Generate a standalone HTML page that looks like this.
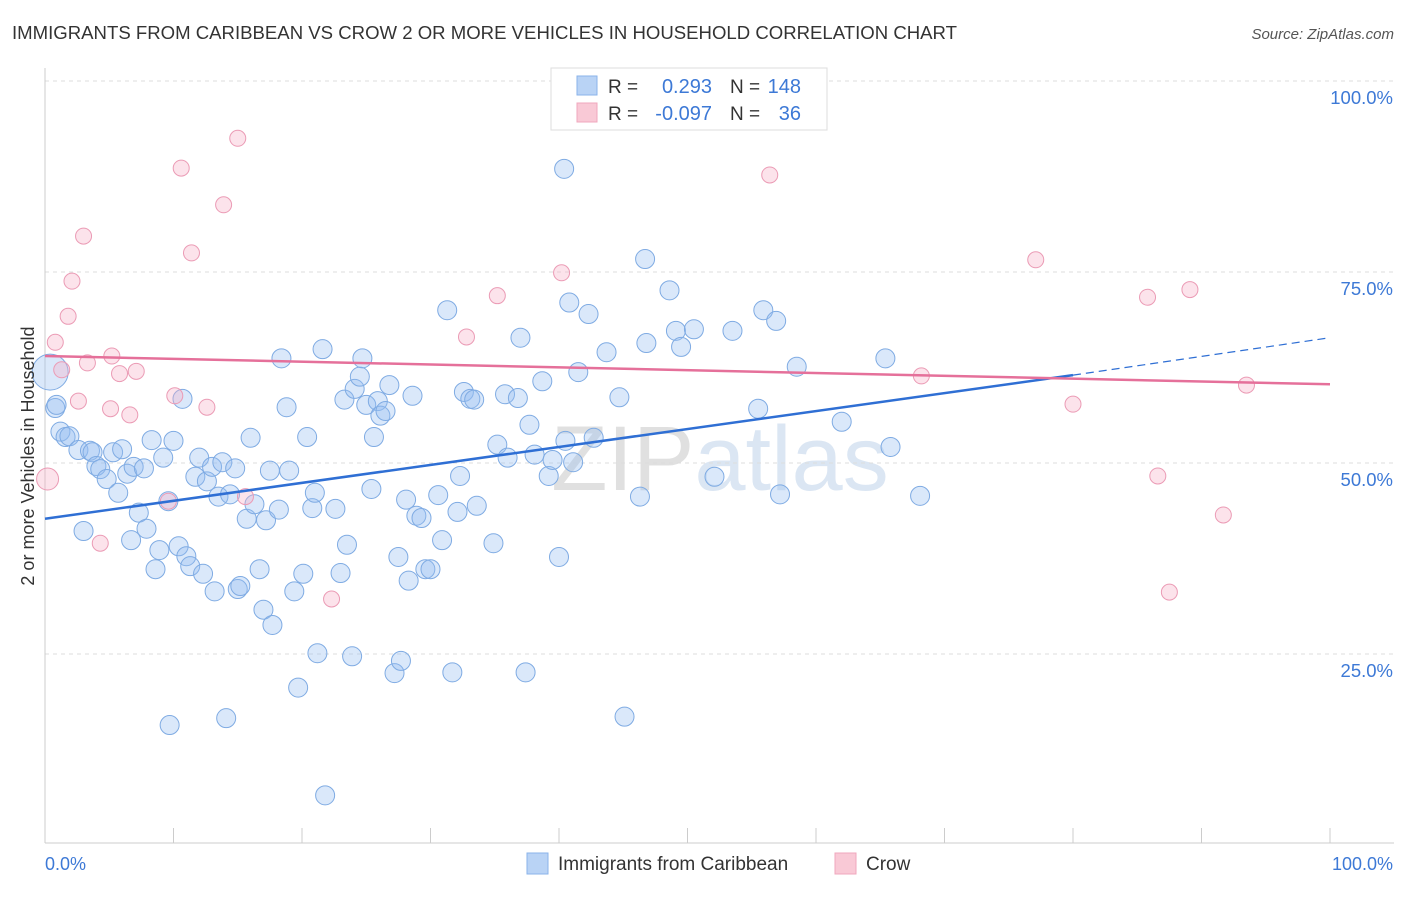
<!DOCTYPE html>
<html><head><meta charset="utf-8">
<style>
body{margin:0;background:#fff;font-family:"Liberation Sans",sans-serif;}
svg text{font-family:"Liberation Sans",sans-serif;}
</style></head>
<body>
<svg id="chart" width="1406" height="892" xmlns="http://www.w3.org/2000/svg">
<text x="12" y="39" font-size="18" fill="#333" textLength="945" lengthAdjust="spacingAndGlyphs">IMMIGRANTS FROM CARIBBEAN VS CROW 2 OR MORE VEHICLES IN HOUSEHOLD CORRELATION CHART</text>
<text x="1394" y="39" font-size="15" fill="#555" font-style="italic" text-anchor="end">Source: ZipAtlas.com</text>
<text x="720" y="490" font-size="92" fill="#e6e6e6" text-anchor="middle" font-family="Liberation Serif"><tspan fill="#e0e0e0">ZIP</tspan><tspan fill="#dbe6f3">atlas</tspan></text>
<g id="grid"></g>
<g id="axes"></g>
<g id="pts"></g>
<g id="trends"></g>
<text transform="translate(34,456) rotate(-90)" font-size="18" fill="#333" text-anchor="middle">2 or more Vehicles in Household</text>
<g>
<rect x="551" y="68" width="276" height="62" fill="#fff" stroke="#ddd"/>
<rect x="577" y="76" width="20" height="19" fill="#b9d3f5" stroke="#8ab3ea"/>
<rect x="577" y="103" width="20" height="19" fill="#f9c9d6" stroke="#f0a7bd"/>
<text x="608" y="93" font-size="19" fill="#333">R =</text>
<text x="712" y="93" font-size="20" fill="#3d79d6" text-anchor="end">0.293</text>
<text x="730" y="93" font-size="19" fill="#333">N =</text>
<text x="801" y="93" font-size="20" fill="#3d79d6" text-anchor="end">148</text>
<text x="608" y="120" font-size="19" fill="#333">R =</text>
<text x="712" y="120" font-size="20" fill="#3d79d6" text-anchor="end">-0.097</text>
<text x="730" y="120" font-size="19" fill="#333">N =</text>
<text x="801" y="120" font-size="20" fill="#3d79d6" text-anchor="end">36</text>
</g>
<g>
<rect x="527" y="853" width="21" height="21" fill="#b9d3f5" stroke="#8ab3ea"/>
<text x="558" y="870" font-size="19" fill="#333">Immigrants from Caribbean</text>
<rect x="835" y="853" width="21" height="21" fill="#f9c9d6" stroke="#f0a7bd"/>
<text x="866" y="870" font-size="19" fill="#333">Crow</text>
</g>
</svg>
<script>
const blueX=[0.4,0.8,0.9,1.2,1.6,1.9,2.6,3.0,3.5,3.7,4.0,4.3,4.8,5.3,5.7,6.0,6.4,6.7,6.9,7.3,7.7,7.9,8.3,8.6,8.9,9.2,9.6,10.0,10.4,10.7,11.0,11.3,11.7,12.0,12.3,12.6,13.0,13.2,13.5,13.8,14.1,14.4,14.8,15.0,15.2,15.7,16.0,16.3,16.7,17.0,17.2,17.5,17.7,18.2,18.4,18.8,19.0,19.4,19.7,20.1,20.4,20.8,21.0,21.2,21.6,21.8,22.6,23.0,23.3,23.5,23.9,24.1,24.5,24.7,25.0,25.4,25.6,25.9,26.1,26.5,26.8,27.2,27.5,27.7,28.1,28.3,28.6,28.9,29.3,29.6,30.0,30.6,30.9,31.3,31.7,32.1,32.3,32.6,33.1,33.4,33.6,34.9,35.2,35.8,36.0,36.8,37.0,37.4,37.7,38.1,38.7,39.2,39.5,40.0,40.4,40.5,40.8,41.1,41.5,42.3,42.7,43.7,44.7,45.1,46.3,46.7,46.8,48.6,49.1,49.5,50.5,52.1,53.5,55.5,55.9,56.9,57.2,58.5,62.0,65.4,65.8,68.1,9.7];
const blueY=[61.9,57.2,57.6,54.1,53.4,53.5,51.7,41.1,51.6,51.4,49.6,49.2,47.9,51.4,46.1,51.8,48.6,39.9,49.5,43.5,49.3,41.4,53.0,36.1,38.6,50.7,45.0,52.9,39.1,58.4,37.8,36.5,48.2,50.7,35.5,47.6,49.5,33.2,45.6,50.1,16.6,45.9,49.3,33.5,33.9,42.7,53.3,44.6,36.1,30.8,42.5,49.0,28.8,43.9,63.7,57.3,49.0,33.2,20.6,35.5,53.4,44.1,46.1,25.1,64.9,6.5,44.0,35.6,58.3,39.3,24.7,59.7,61.3,63.7,57.6,46.6,53.4,58.1,56.2,56.8,60.2,22.5,37.7,24.1,45.2,34.6,58.8,43.1,42.8,36.1,36.1,45.8,39.9,70.0,22.6,43.6,48.3,59.3,58.4,58.3,44.4,39.5,52.4,59.0,50.7,58.5,66.4,22.6,55.0,51.1,60.7,48.3,50.4,37.7,88.5,52.9,71.0,50.1,61.9,69.5,53.3,64.5,58.6,16.8,45.6,76.7,65.7,72.6,67.3,65.2,67.5,48.2,67.3,57.1,70.0,68.6,45.9,62.6,55.4,63.7,52.1,45.7,15.7];
const pinkX=[0.2,0.8,1.3,1.8,2.1,2.6,3.0,3.3,4.3,5.1,5.2,5.8,6.6,7.1,9.6,10.1,10.6,11.4,12.6,13.9,15.0,15.6,22.3,32.8,35.2,40.2,56.4,68.2,77.1,80.0,85.8,86.6,87.5,89.1,91.7,93.5];
const pinkY=[47.9,65.8,62.2,69.2,73.8,58.1,79.7,63.1,39.5,57.1,64.0,61.7,56.3,62.0,45.0,58.8,88.6,77.5,57.3,83.8,92.5,45.6,32.2,66.5,71.9,74.9,87.7,61.4,76.6,57.7,71.7,48.3,33.1,72.7,43.2,60.2];
const blueTrend=[42.7,61.5,66.4]; // at x=0, 80, 100
const pinkTrend=[64.0,60.3]; // at x=0, 100
const yTicks=[25,50,75,100];
const yTickLabels=["25.0%","50.0%","75.0%","100.0%"];
const xTicks=[0,10,20,30,40,50,60,70,80,90,100];

const NS="http://www.w3.org/2000/svg";
const X0=45,X1=1330,Y0=845,YS=7.64;
function sx(v){return X0+(X1-X0)*v/100;}
function sy(v){return Y0-YS*v;}
function mk(tag,attrs,parent){const e=document.createElementNS(NS,tag);for(const k in attrs)e.setAttribute(k,attrs[k]);parent.appendChild(e);return e;}
const grid=document.getElementById('grid'),axes=document.getElementById('axes'),pts=document.getElementById('pts'),tr=document.getElementById('trends');
yTicks.forEach((t,i)=>{
  const l=mk('line',{x1:X0,x2:1394,y1:sy(t),y2:sy(t),stroke:'#ddd','stroke-dasharray':'4,4'},grid);
  
  
  const tx=mk('text',{x:1393,y:sy(t)+23,'font-size':18.5,fill:'#3d79d6','text-anchor':'end'},grid);
  tx.textContent=yTickLabels[i];
  
  
});
const ax=mk('line',{x1:X0,x2:1394,y1:843,y2:843,stroke:'#ccc'},axes);


const ay=mk('line',{x1:X0,x2:X0,y1:68,y2:843,stroke:'#ccc'},axes);


xTicks.forEach(t=>{
  const l=mk('line',{x1:sx(t),x2:sx(t),y1:828,y2:843,stroke:'#ccc'},axes);
  
  
});
const xl0=mk('text',{x:45,y:870,'font-size':18,fill:'#3d79d6'},axes);xl0.textContent='0.0%';


const xl1=mk('text',{x:1393,y:870,'font-size':18,fill:'#3d79d6','text-anchor':'end'},axes);xl1.textContent='100.0%';


blueX.forEach((x,i)=>{
  const c=mk('circle',{cx:sx(x),cy:sy(blueY[i]),r:i===0?18:9.5,fill:'rgba(150,190,240,0.35)',stroke:'#7fabe3','stroke-width':1},pts);
  
  
});
pinkX.forEach((x,i)=>{
  const c=mk('circle',{cx:sx(x),cy:sy(pinkY[i]),r:i===0?11:8,fill:'rgba(245,175,198,0.35)',stroke:'#eb9bb5','stroke-width':1},pts);
  
  
});
const bl=mk('line',{x1:sx(0),y1:sy(blueTrend[0]),x2:sx(80),y2:sy(blueTrend[1]),stroke:'#2f6fd4','stroke-width':2.5},tr);


const bd=mk('line',{x1:sx(80),y1:sy(blueTrend[1]),x2:sx(100),y2:sy(blueTrend[2]),stroke:'#2f6fd4','stroke-width':1.2,'stroke-dasharray':'8,5'},tr);


const pl=mk('line',{x1:sx(0),y1:sy(pinkTrend[0]),x2:sx(100),y2:sy(pinkTrend[1]),stroke:'#e5709a','stroke-width':2.5},tr);


</script>
</body></html>
